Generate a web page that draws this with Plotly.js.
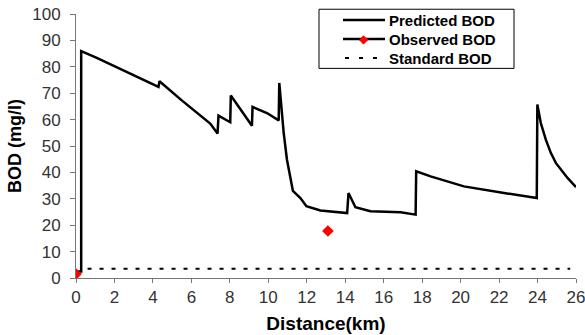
<!DOCTYPE html>
<html>
<head>
<meta charset="utf-8">
<script src="https://cdn.plot.ly/plotly-3.0.1.min.js"></script>
<style>html,body{margin:0;padding:0;background:#fff}#chart{width:585px;height:335px}</style>
</head>
<body>
<div id="chart"></div>
<script>
// Predicted BOD profile (km, mg/l)
const predX = [0, 0.27, 0.27, 1.08, 4.29, 4.34, 5.5, 6.98, 7.36, 7.41, 8.02, 8.05, 9.15, 9.18, 9.93, 10.54, 10.57, 10.8, 10.97, 11.28, 11.67, 11.98, 12.71, 14.1, 14.17, 14.53, 15.31, 16.88, 17.66, 17.69, 18.44, 20.17, 22.26, 23.96, 23.99, 24.08, 24.17, 24.43, 24.69, 24.95, 25.21, 25.56, 26.0];
const predY = [2.5, 2.5, 85.9, 83.4, 72.4, 74.5, 67.3, 58.5, 54.7, 61.5, 59.0, 69.1, 57.7, 64.8, 62.5, 59.7, 73.9, 55.0, 44.8, 33.0, 30.3, 27.2, 25.6, 24.6, 32.2, 26.8, 25.3, 24.9, 24.0, 40.4, 38.5, 34.7, 32.2, 30.3, 65.7, 61.3, 58.7, 52.4, 47.4, 43.6, 41.1, 37.9, 34.4];
// Observed BOD
const obsX = [0, 13.1];
const obsY = [1.5, 17.8];
// Standard BOD
const stdX = [0.6, 25.7];
const stdY = [3.5, 3.5];

const xTicks = [0,2,4,6,8,10,12,14,16,18,20,22,24,26];
const yTicks = [0,10,20,30,40,50,60,70,80,90,100];
const seriesNames = ['Predicted BOD', 'Observed BOD', 'Standard BOD'];

const FONT = 'Liberation Sans, Arial, sans-serif';

const traces = [
  {x: predX, y: predY, mode: 'lines', name: seriesNames[0],
   line: {color: '#000', width: 2.5}},
  {x: obsX, y: obsY, mode: 'markers', name: seriesNames[1],
   marker: {color: '#ff0000', symbol: 'diamond', size: 9}},
  {x: stdX, y: stdY, mode: 'lines', name: seriesNames[2],
   line: {color: '#000', width: 2, dash: '4px,8px'}}
];

// legend box (paper coordinates)
const LG = {x0: 0.486, x1: 0.876, y0: 0.794, y1: 1.018,
  rows: [0.977, 0.905, 0.833], s0: 0.534, s1: 0.618, tx: 0.622};

const shapes = [
  {type: 'rect', xref: 'paper', yref: 'paper', x0: LG.x0, x1: LG.x1, y0: LG.y0, y1: LG.y1,
   line: {color: '#000', width: 1}, fillcolor: '#fff', layer: 'above'},
  {type: 'line', xref: 'paper', yref: 'paper', x0: LG.s0, x1: LG.s1, y0: LG.rows[0], y1: LG.rows[0],
   line: {color: '#000', width: 2.5}, layer: 'above'},
  {type: 'line', xref: 'paper', yref: 'paper', x0: LG.s0, x1: LG.s1, y0: LG.rows[1], y1: LG.rows[1],
   line: {color: '#000', width: 2.5}, layer: 'above'},
  {type: 'line', xref: 'paper', yref: 'paper', x0: LG.s0 + 0.004, x1: LG.s1, y0: LG.rows[2], y1: LG.rows[2],
   line: {color: '#000', width: 2, dash: '4px,10px'}, layer: 'above'}
];
const annotations = seriesNames.map((n, i) => ({
  xref: 'paper', yref: 'paper', x: LG.tx, y: LG.rows[i], xanchor: 'left', yanchor: 'middle',
  text: n, showarrow: false, font: {family: FONT, size: 15, color: '#000', weight: 'bold'}
}));
annotations.push({xref: 'paper', yref: 'paper', x: (LG.s0 + LG.s1) / 2, y: LG.rows[1],
  xanchor: 'center', yanchor: 'middle', text: '◆', showarrow: false,
  font: {family: 'DejaVu Sans', size: 12, color: '#ff0000'}});

const layout = {
  width: 585, height: 335,
  margin: {l: 76, r: 9, t: 14, b: 57},
  paper_bgcolor: '#fff', plot_bgcolor: '#fff',
  showlegend: false,
  shapes: shapes, annotations: annotations,
  xaxis: {range: [0, 26], tickvals: xTicks, ticktext: xTicks.map(String),
    showgrid: false, zeroline: false, showline: true, linecolor: '#777', linewidth: 1,
    ticks: 'outside', ticklen: 4, tickcolor: '#777', ticklabeloverflow: 'allow',
    tickfont: {family: FONT, size: 17, color: '#333'},
    title: {text: 'Distance(km)', font: {family: FONT, size: 19, color: '#000', weight: 'bold'}, standoff: 10}},
  yaxis: {range: [0, 100], tickvals: yTicks, ticktext: yTicks.map(String),
    showgrid: false, zeroline: false, showline: true, linecolor: '#777', linewidth: 1,
    ticks: 'outside', ticklen: 5, tickcolor: '#777', ticklabelstandoff: 6, ticklabeloverflow: 'allow',
    tickfont: {family: FONT, size: 17, color: '#333'},
    title: {text: 'BOD (mg/l)', font: {family: FONT, size: 18, color: '#000', weight: 'bold'}, standoff: 5}}
};

Plotly.newPlot('chart', traces, layout, {displayModeBar: false, staticPlot: true});
</script>
</body>
</html>
